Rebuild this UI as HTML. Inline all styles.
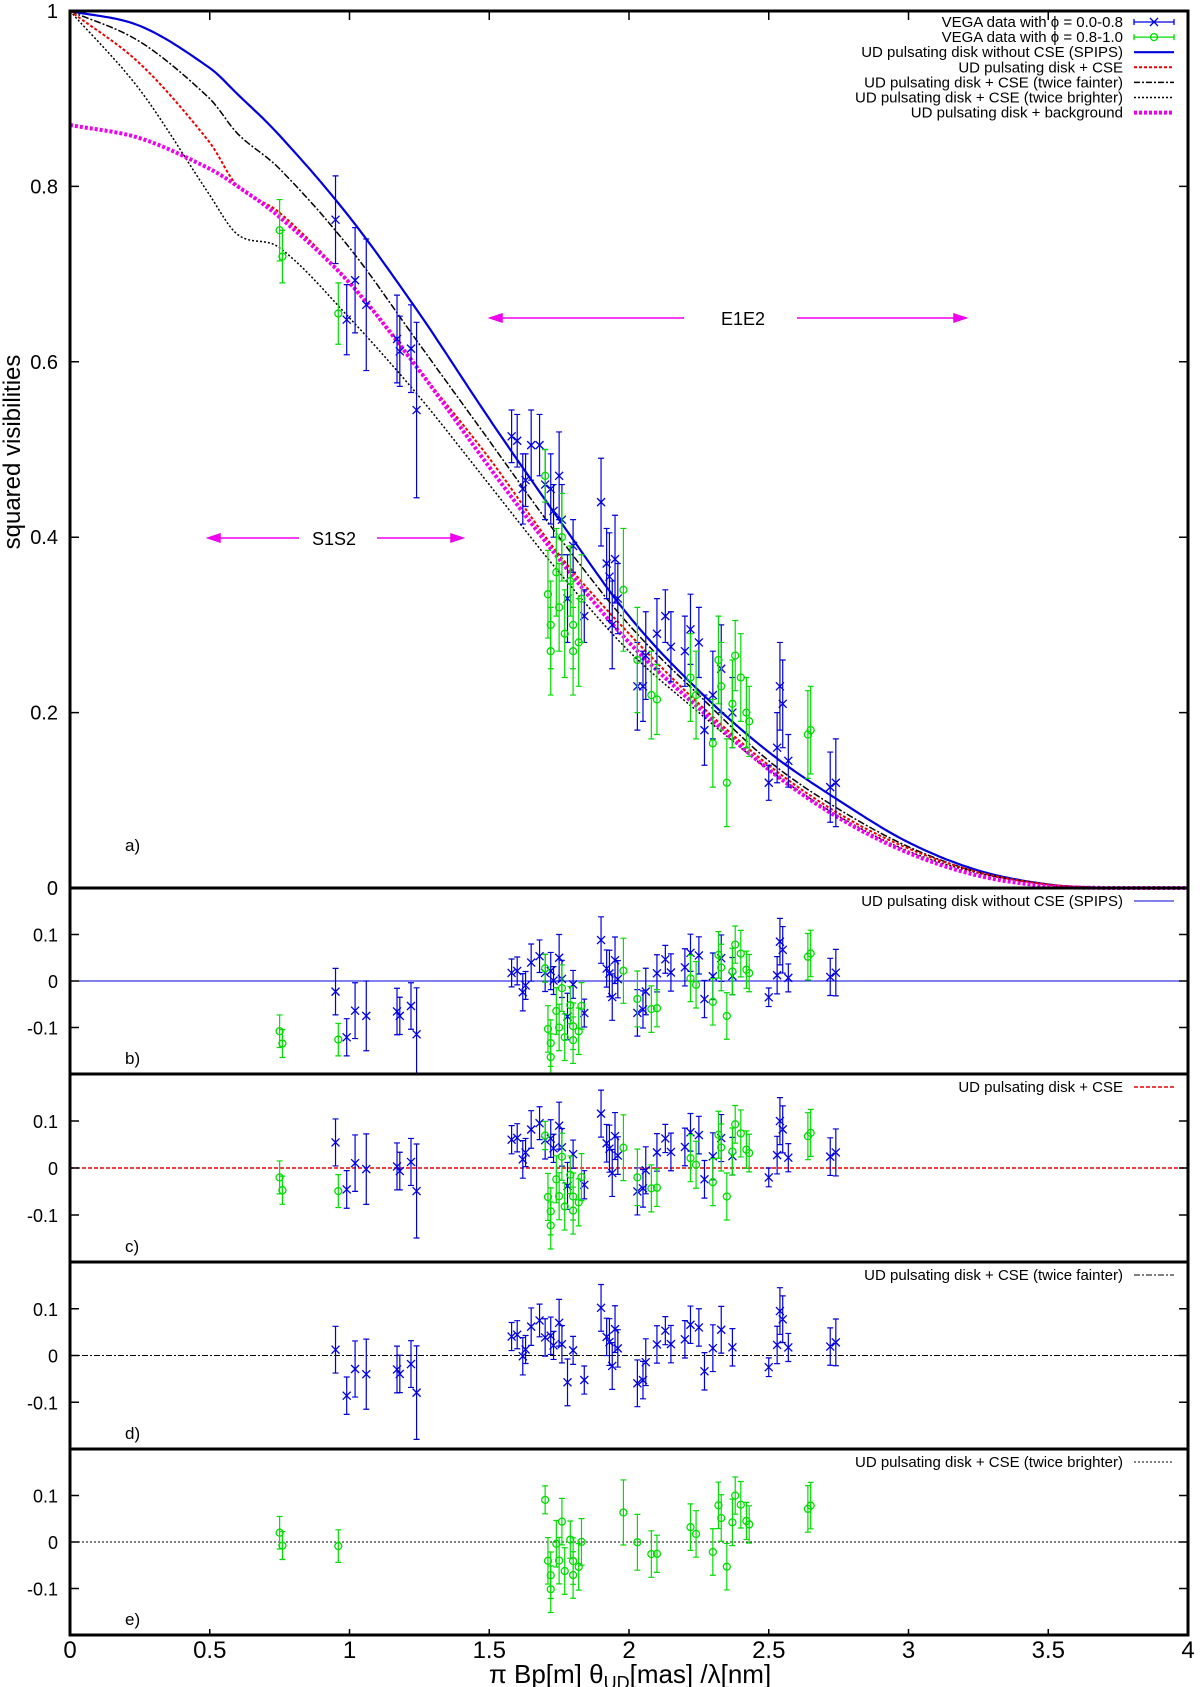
<!DOCTYPE html>
<html><head><meta charset="utf-8"><style>
html,body{margin:0;padding:0;background:#fff}
svg{display:block;font-family:"Liberation Sans",sans-serif}
</style></head><body>
<svg id="chart" width="1200" height="1687" viewBox="0 0 1200 1687" xmlns="http://www.w3.org/2000/svg"></svg>
<script>
// ---- data ----
const curveX = [0,0.25,0.5,0.6,0.75,1,1.25,1.5,1.75,2,2.25,2.5,2.75,3,3.25,3.5,3.7];
const spipsV2 = [1,0.983,0.935,0.905,0.858,0.765,0.655,0.535,0.42,0.31,0.225,0.155,0.10,0.052,0.02,0.004,0];
const cseV2 = [1,0.94,0.85,0.80,0.77,0.69,0.59,0.49,0.38,0.29,0.21,0.14,0.085,0.045,0.018,0.004,0];
const fainterV2 = [1,0.965,0.90,0.86,0.82,0.73,0.62,0.51,0.40,0.30,0.22,0.145,0.09,0.047,0.018,0.004,0];
const brighterV2 = [1,0.91,0.79,0.745,0.73,0.65,0.56,0.46,0.36,0.27,0.20,0.135,0.082,0.042,0.017,0.004,0];
const backgroundV2 = [0.87,0.855,0.82,0.80,0.765,0.69,0.59,0.48,0.375,0.28,0.205,0.135,0.08,0.04,0.014,0.002,0];

const blueX = [0.95,0.99,1.02,1.06,1.17,1.18,1.22,1.24,1.58,1.6,1.62,1.63,1.65,1.68,1.7,1.72,1.73,1.75,1.76,1.78,1.8,1.84,1.9,1.92,1.93,1.94,1.95,1.96,2.03,2.05,2.06,2.1,2.13,2.15,2.2,2.22,2.25,2.27,2.3,2.33,2.37,2.5,2.53,2.54,2.55,2.57,2.72,2.74];
const blueY = [0.762,0.648,0.693,0.665,0.626,0.612,0.615,0.545,0.515,0.51,0.455,0.465,0.505,0.505,0.46,0.455,0.43,0.47,0.42,0.33,0.39,0.31,0.44,0.37,0.355,0.30,0.375,0.33,0.23,0.23,0.265,0.29,0.31,0.275,0.27,0.295,0.28,0.18,0.22,0.25,0.20,0.12,0.16,0.23,0.21,0.145,0.115,0.12];
const blueErr = [0.05,0.04,0.06,0.075,0.05,0.04,0.05,0.1,0.03,0.03,0.04,0.03,0.04,0.035,0.04,0.04,0.03,0.05,0.04,0.05,0.03,0.03,0.05,0.04,0.05,0.05,0.05,0.04,0.05,0.04,0.05,0.04,0.03,0.04,0.04,0.04,0.04,0.04,0.05,0.05,0.04,0.02,0.04,0.05,0.05,0.03,0.04,0.05];
const greenX = [0.75,0.76,0.96,1.7,1.71,1.72,1.72,1.74,1.75,1.76,1.77,1.79,1.8,1.8,1.82,1.83,1.98,2.03,2.08,2.1,2.22,2.24,2.3,2.32,2.33,2.35,2.37,2.38,2.4,2.42,2.43,2.64,2.65];
const greenY = [0.75,0.72,0.655,0.47,0.335,0.30,0.27,0.36,0.32,0.40,0.29,0.35,0.30,0.27,0.28,0.33,0.34,0.26,0.22,0.215,0.24,0.22,0.165,0.26,0.23,0.12,0.21,0.265,0.24,0.20,0.19,0.175,0.18];
const greenErr = [0.035,0.03,0.035,0.03,0.05,0.05,0.05,0.05,0.05,0.05,0.05,0.04,0.05,0.05,0.05,0.05,0.07,0.06,0.05,0.04,0.05,0.05,0.05,0.05,0.05,0.05,0.05,0.04,0.05,0.04,0.04,0.05,0.05];

const xTicks = [0,0.5,1,1.5,2,2.5,3,3.5,4];
const xTickLabels = ["0","0.5","1","1.5","2","2.5","3","3.5","4"];
const yTicks = [0,0.2,0.4,0.6,0.8,1];
const yTickLabels = ["0","0.2","0.4","0.6","0.8","1"];
const resTicks = [-0.1,0,0.1];
const resTickLabels = ["-0.1","0","0.1"];

// ---- layout ----
const NS = "http://www.w3.org/2000/svg";
const svg = document.getElementById("chart");
const L = 70, R = 1188;
const X = v => L + v * (R - L) / 4;
const mainTop = 11, mainBot = 888;
const Ym = v => mainBot - v * (mainBot - mainTop);
const panels = [
  {top:888, bot:1074, label:"b)", model:spipsV2, legend:"UD pulsating disk without CSE (SPIPS)", color:"#0000dd", dash:"", w:1, showBlue:true, showGreen:true, name:"spips"},
  {top:1074, bot:1262, label:"c)", model:cseV2, legend:"UD pulsating disk + CSE", color:"#ee0000", dash:"4,2", w:1.5, showBlue:true, showGreen:true, name:"cse"},
  {top:1262, bot:1449, label:"d)", model:fainterV2, legend:"UD pulsating disk + CSE (twice fainter)", color:"#000", dash:"6,2,2,2", w:1, showBlue:true, showGreen:false, name:"fainter"},
  {top:1449, bot:1635, label:"e)", model:brighterV2, legend:"UD pulsating disk + CSE (twice brighter)", color:"#000", dash:"2,2", w:1, showBlue:false, showGreen:true, name:"brighter"}
];

function mk(tag, attrs, parent) {
  const e = document.createElementNS(NS, tag);
  for (const k in attrs) e.setAttribute(k, attrs[k]);
  (parent || svg).appendChild(e);
  return e;
}
// Catmull-Rom interpolation through the tabulated points
function interp(xs, ys, v) {
  if (v <= xs[0]) return ys[0];
  const n = xs.length;
  if (v >= xs[n-1]) return ys[n-1];
  let i = 1;
  while (v > xs[i]) i++;
  const x0 = xs[i-1], x1 = xs[i], y0 = ys[i-1], y1 = ys[i];
  const h = x1 - x0, t = (v - x0) / h;
  const m0 = i - 2 >= 0 ? (y1 - ys[i-2]) / (x1 - xs[i-2]) : (y1 - y0) / h;
  const m1 = i + 1 < n ? (ys[i+1] - y0) / (xs[i+1] - x0) : (y1 - y0) / h;
  const t2 = t*t, t3 = t2*t;
  return (2*t3-3*t2+1)*y0 + (t3-2*t2+t)*h*m0 + (-2*t3+3*t2)*y1 + (t3-t2)*h*m1;
}
function curvePath(ys, Yf) {
  let d = "";
  for (let i = 0; i <= 320; i++) {
    const v = i * 0.0125;
    const y = Math.max(0, interp(curveX, ys, v));
    d += (i ? "L" : "M") + X(v).toFixed(1) + "," + Yf(y).toFixed(1);
  }
  return d;
}
function cross(g, x, y, c) {
  const p = mk("path", {d:`M${x-4},${y-4}L${x+4},${y+4}M${x-4},${y+4}L${x+4},${y-4}`, stroke:c, "stroke-width":1.3, fill:"none"}, g);
  
  
}
function circ(g, x, y, c) {
  const p = mk("circle", {cx:x, cy:y, r:3.5, stroke:c, "stroke-width":1.3, fill:"none"}, g);
  
  
}
function errbar(g, x, y1, y2, c, lo, hi) {
  const a = Math.max(lo, Math.min(hi, y1)), b = Math.max(lo, Math.min(hi, y2));
  let d = `M${x},${a}L${x},${b}`;
  if (y1 >= lo && y1 <= hi) d += `M${x-3},${y1}L${x+3},${y1}`;
  if (y2 >= lo && y2 <= hi) d += `M${x-3},${y2}L${x+3},${y2}`;
  const p = mk("path", {d:d, stroke:c, "stroke-width":1.2, fill:"none"}, g);
  
  
}
function text(str, x, y, size, anchor, parent) {
  const t = mk("text", {x:x, y:y, "font-size":size, "text-anchor":anchor || "start", fill:"#000"}, parent);
  t.textContent = str;
  return t;
}

// ---- main panel ----
const gMain = mk("g", {});



const curves = [
  {ys:spipsV2, c:"#0000dd", w:2.2, dash:"", name:"spips-curve"},
  {ys:fainterV2, c:"#000", w:1.5, dash:"7,2,2,2", name:"cse-fainter-curve"},
  {ys:brighterV2, c:"#000", w:1.5, dash:"2,2", name:"cse-brighter-curve"},
  {ys:cseV2, c:"#ee0000", w:2, dash:"3,2", name:"cse-curve"},
  {ys:backgroundV2, c:"#ee00ee", w:4, dash:"3,2", name:"background-curve"}
];
curves.forEach(cv => {
  const p = mk("path", {d:curvePath(cv.ys, Ym), stroke:cv.c, "stroke-width":cv.w, fill:"none", "stroke-dasharray":cv.dash}, gMain);
  
  
});
for (let i = 0; i < blueX.length; i++) {
  errbar(gMain, X(blueX[i]), Ym(blueY[i]+blueErr[i]), Ym(blueY[i]-blueErr[i]), "#0000dd", mainTop, mainBot);
  cross(gMain, X(blueX[i]), Ym(blueY[i]), "#0000dd");
}
for (let i = 0; i < greenX.length; i++) {
  errbar(gMain, X(greenX[i]), Ym(greenY[i]+greenErr[i]), Ym(greenY[i]-greenErr[i]), "#00dd00", mainTop, mainBot);
  circ(gMain, X(greenX[i]), Ym(greenY[i]), "#00dd00");
}
// annotations
function arrow(x1, x2, y, name) {
  const dir = x2 > x1 ? 1 : -1;
  const p = mk("path", {d:`M${x1},${y}L${x2},${y}M${x2},${y}L${x2-dir*12},${y-4}L${x2-dir*12},${y+4}Z`, stroke:"#ee00ee", "stroke-width":1.5, fill:"#ee00ee"}, gMain);
  
  
}
arrow(684, 490, 318, "e1e2-arrow-left");
arrow(797, 966, 318, "e1e2-arrow-right");
const t1 = text("E1E2", 743, 325, 18, "middle", gMain);


arrow(299, 208, 538, "s1s2-arrow-left");
arrow(377, 463, 538, "s1s2-arrow-right");
const t2 = text("S1S2", 334, 545, 18, "middle", gMain);


const ta = text("a)", 125, 851, 17, "start", gMain);



// main y ticks
yTicks.forEach((v, i) => {
  const tk = mk("path", {d:`M${L},${Ym(v)}L${L+9},${Ym(v)}M${R},${Ym(v)}L${R-9},${Ym(v)}`, stroke:"#000", "stroke-width":1.5}, gMain);
  
  
  const lb = text(yTickLabels[i], 58, Ym(v) + 7, 20, "end", gMain);
  
  
});
// legend
const legend = mk("g", {});


const legTexts = ["VEGA data with \u03d5 = 0.0-0.8","VEGA data with \u03d5 = 0.8-1.0","UD pulsating disk without CSE (SPIPS)","UD pulsating disk + CSE","UD pulsating disk + CSE (twice fainter)","UD pulsating disk + CSE (twice brighter)","UD pulsating disk + background"];
const legStyles = [["#0000dd",1.3,""],["#00dd00",1.3,""],["#0000dd",2.2,""],["#ee0000",2,"3,2"],["#000",1.5,"6,2,2,2"],["#000",1.5,"2,2"],["#ee00ee",4,"3,2"]];
legTexts.forEach((s, i) => {
  const y = 22 + i * 15.1;
  const lt = text(s, 1123, y + 5, 15, "end", legend);
  
  
  const st = legStyles[i];
  const ln = mk("path", {d:`M1134,${y}L1174,${y}` + (i < 2 ? `M1134,${y-3}L1134,${y+3}M1174,${y-3}L1174,${y+3}` : ""), stroke:st[0], "stroke-width":st[1], "stroke-dasharray":st[2], fill:"none"}, legend);
  
  
  if (i === 0) cross(legend, 1154, y, "#0000dd");
  if (i === 1) circ(legend, 1154, y, "#00dd00");
});
const frameMain = mk("rect", {x:L, y:mainTop, width:R-L, height:mainBot-mainTop, fill:"none", stroke:"#000", "stroke-width":3}, gMain);



// ---- residual panels ----
panels.forEach(P => {
  const g = mk("g", {});
  
  
  const mid = (P.top + P.bot) / 2, scale = (P.bot - P.top) / 0.4;
  const Yr = v => mid - v * scale;
  const zl = mk("path", {d:`M${L},${Yr(0)}L${R},${Yr(0)}`, stroke:P.color, "stroke-width":P.w, "stroke-dasharray":P.dash}, g);
  
  
  if (P.showBlue) for (let i = 0; i < blueX.length; i++) {
    const r = blueY[i] - interp(curveX, P.model, blueX[i]);
    errbar(g, X(blueX[i]), Yr(r + blueErr[i]), Yr(r - blueErr[i]), "#0000dd", P.top, P.bot);
    if (Math.abs(r) < 0.2) cross(g, X(blueX[i]), Yr(r), "#0000dd");
  }
  if (P.showGreen) for (let i = 0; i < greenX.length; i++) {
    const r = greenY[i] - interp(curveX, P.model, greenX[i]);
    errbar(g, X(greenX[i]), Yr(r + greenErr[i]), Yr(r - greenErr[i]), "#00dd00", P.top, P.bot);
    if (Math.abs(r) < 0.2) circ(g, X(greenX[i]), Yr(r), "#00dd00");
  }
  resTicks.forEach((v, i) => {
    const tk = mk("path", {d:`M${L},${Yr(v)}L${L+9},${Yr(v)}M${R},${Yr(v)}L${R-9},${Yr(v)}`, stroke:"#000", "stroke-width":1.5}, g);
    
    
    const lb = text(resTickLabels[i], 58, Yr(v) + 7, 18, "end", g);
    
    
  });
  const lt = text(P.legend, 1123, P.top + 18, 15, "end", g);
  
  
  const ls = mk("path", {d:`M1134,${P.top+13}L1174,${P.top+13}`, stroke:P.color, "stroke-width":P.w, "stroke-dasharray":P.dash}, g);
  
  
  const pl = text(P.label, 125, P.bot - 10, 17, "start", g);
  
  
  const fr = mk("rect", {x:L, y:P.top, width:R-L, height:P.bot-P.top, fill:"none", stroke:"#000", "stroke-width":3}, g);
  
  
});

// ---- x axis ----
const bot = 1635;
xTicks.forEach((v, i) => {
  const tk = mk("path", {d:`M${X(v)},${bot}L${X(v)},${bot-6}M${X(v)},${mainTop}L${X(v)},${mainTop+9}`, stroke:"#000", "stroke-width":1.5});
  
  
  const lb = text(xTickLabels[i], X(v), 1658, 24, "middle");
  
  
});
const xt = mk("text", {x:630, y:1683, "font-size":26, "text-anchor":"middle", fill:"#000"});
xt.innerHTML = '\u03c0 Bp[m] \u03b8<tspan font-size="18" dy="6">UD</tspan><tspan dy="-6">[mas] /\u03bb[nm]</tspan>';


const yt = mk("text", {x:0, y:0, "font-size":24, "text-anchor":"middle", fill:"#000", transform:"translate(20,452) rotate(-90)"});
yt.textContent = "squared visibilities";


</script>
</body></html>
